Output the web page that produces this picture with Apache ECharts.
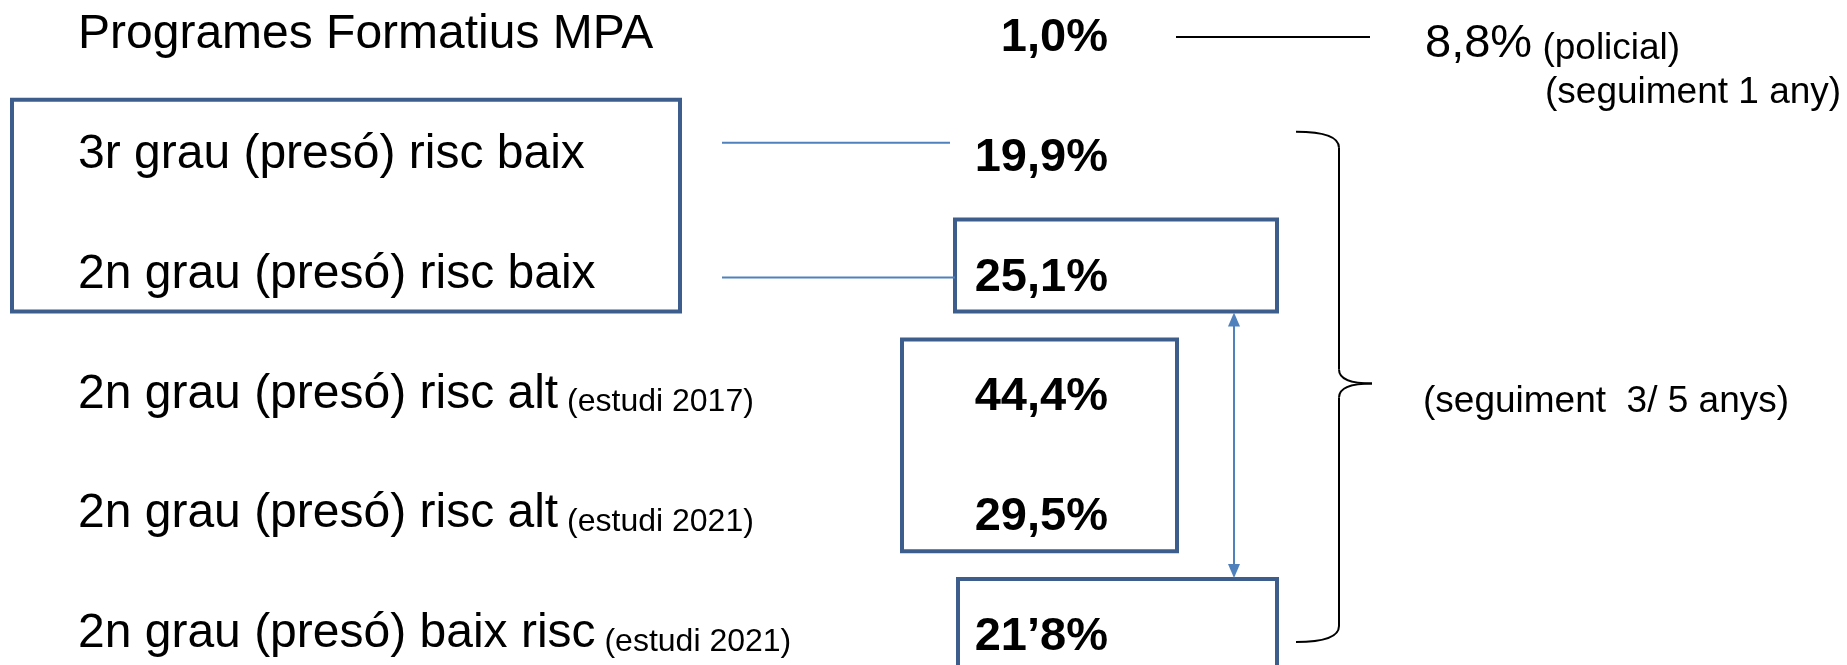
<!DOCTYPE html>
<html>
<head>
<meta charset="utf-8">
<title>Programes Formatius MPA</title>
<script src="https://cdn.jsdelivr.net/npm/echarts@6/dist/echarts.min.js"></script>
<style>
  html, body { margin: 0; padding: 0; background: #fff; }
  #chart { width: 1847px; height: 665px; }
</style>
</head>
<body>
<div id="chart"></div>
<script>
// files del quadre
const rowLabels = [
  'Programes Formatius MPA',
  '3r grau (presó) risc baix',
  '2n grau (presó) risc baix',
  '2n grau (presó) risc alt',
  '2n grau (presó) risc alt',
  '2n grau (presó) baix risc'
];
const rowNotes = ['', '', '', '(estudi 2017)', '(estudi 2021)', '(estudi 2021)'];

// taxa de reincidència per fila
const rateValues = [1.0, 19.9, 25.1, 44.4, 29.5, 21.8];
const rateLabels = ['1,0%', '19,9%', '25,1%', '44,4%', '29,5%', '21’8%'];

// reincidència policial (fila 0)
const policeValue = 8.8;
const policeLabel = '8,8%';
const policeNote = '(policial)';
const followShort = '(seguiment 1 any)';
const followLong = '(seguiment  3/ 5 anys)';

// files agrupades dins de cada requadre [primera, última]
const boxRows = [[1, 2], [2, 2], [3, 4], [5, 5]];

// maquetació (px)
const FONT = "'Liberation Sans', Arial, sans-serif";
const boxX = [[12, 680], [955, 1277], [902, 1177], [958, 1277]];
const BOX_TOP = 55, BOX_BOTTOM = 37;
const RATE_RIGHT = 1108;
const DARK_BLUE = '#3d5e8c';
const LIGHT_BLUE = '#4f81bd';

let myChart = echarts.init(document.getElementById('chart'));

let option = {
  backgroundColor: '#fff',
  animation: false,
  grid: { left: 0, right: 0, top: 35, bottom: 31, containLabel: false, outerBoundsMode: 'none' },
  xAxis: { type: 'value', min: 0, max: 1847, show: false },
  yAxis: {
    type: 'category',
    inverse: true,
    boundaryGap: false,
    data: rowLabels,
    axisLine: { show: false },
    axisTick: { show: false },
    splitLine: { show: false },
    axisLabel: {
      inside: true,
      margin: 78,
      align: 'left',
      interval: 0,
      formatter: function (value, index) {
        let s = '{main|' + rowLabels[index] + '}';
        if (rowNotes[index]) s += '{note| ' + rowNotes[index] + '}';
        return s;
      },
      rich: {
        main: { fontFamily: FONT, fontSize: 48, lineHeight: 48, verticalAlign: 'bottom', color: '#000' },
        note: { fontFamily: FONT, fontSize: 32, lineHeight: 38, verticalAlign: 'bottom', color: '#000' }
      }
    }
  },
  series: [
    {
      // requadres
      name: 'caixes',
      type: 'custom',
      clip: false,
      silent: true,
      data: boxRows,
      renderItem: function (params, api) {
        const g = boxRows[params.dataIndex];
        const x = boxX[params.dataIndex];
        const y0 = api.coord([0, g[0]])[1] - BOX_TOP;
        const y1 = api.coord([0, g[1]])[1] + BOX_BOTTOM;
        return {
          type: 'rect',
          shape: { x: x[0], y: y0, width: x[1] - x[0], height: y1 - y0 },
          style: { fill: 'none', stroke: DARK_BLUE, lineWidth: 4 }
        };
      }
    },
    {
      // percentatges
      name: 'taxa',
      type: 'custom',
      clip: false,
      silent: true,
      data: rateValues.map((v, i) => [v, i]),
      encode: { x: 0, y: 1 },
      renderItem: function (params, api) {
        const y = api.coord([0, api.value(1)])[1];
        return {
          type: 'text',
          x: RATE_RIGHT,
          y: y + 3,
          style: {
            text: rateLabels[params.dataIndex],
            fill: '#000',
            font: 'bold 47px ' + FONT,
            align: 'right',
            verticalAlign: 'middle'
          }
        };
      }
    },
    {
      // línies, fletxa, clau i textos de seguiment
      name: 'anotacions',
      type: 'custom',
      clip: false,
      silent: true,
      data: [[policeValue, 0]],
      encode: { x: 0, y: 1 },
      renderItem: function (params, api) {
        const r = i => api.coord([0, i])[1];
        const thin = { stroke: LIGHT_BLUE, lineWidth: 2 };
        const ax = 1234;
        const aTop = r(2) + BOX_BOTTOM + 1;
        const aBot = r(5) - BOX_TOP - 1;
        const bTop = r(1) - 23, bBot = r(5) + 8, tip = r(3) - 11;
        const sx = 1339, ex = 1296, tx = 1372;
        const blk = { stroke: '#000', lineWidth: 2, fill: 'none' };
        return {
          type: 'group',
          children: [
            { type: 'line', shape: { x1: 722, y1: r(1) - 12, x2: 950, y2: r(1) - 12 }, style: thin },
            { type: 'line', shape: { x1: 722, y1: r(2) + 3, x2: 955, y2: r(2) + 3 }, style: thin },
            { type: 'line', shape: { x1: 1176, y1: r(0) + 2, x2: 1370, y2: r(0) + 2 }, style: { stroke: '#000', lineWidth: 2 } },
            // fletxa doble
            { type: 'line', shape: { x1: ax, y1: aTop + 12, x2: ax, y2: aBot - 12 }, style: thin },
            { type: 'polygon', shape: { points: [[ax, aTop], [ax - 6, aTop + 14], [ax + 6, aTop + 14]] }, style: { fill: LIGHT_BLUE } },
            { type: 'polygon', shape: { points: [[ax, aBot], [ax - 6, aBot - 14], [ax + 6, aBot - 14]] }, style: { fill: LIGHT_BLUE } },
            // clau
            { type: 'bezierCurve', shape: { x1: ex, y1: bTop, cpx1: sx, cpy1: bTop, x2: sx, y2: bTop + 16 }, style: blk },
            { type: 'line', shape: { x1: sx, y1: bTop + 16, x2: sx, y2: tip - 14 }, style: blk },
            { type: 'bezierCurve', shape: { x1: sx, y1: tip - 14, cpx1: sx, cpy1: tip, x2: tx, y2: tip }, style: blk },
            { type: 'bezierCurve', shape: { x1: tx, y1: tip, cpx1: sx, cpy1: tip, x2: sx, y2: tip + 14 }, style: blk },
            { type: 'line', shape: { x1: sx, y1: tip + 14, x2: sx, y2: bBot - 16 }, style: blk },
            { type: 'bezierCurve', shape: { x1: sx, y1: bBot - 16, cpx1: sx, cpy1: bBot, x2: ex, y2: bBot }, style: blk },
            // textos
            {
              type: 'text', x: 1425, y: r(0) + 9,
              style: {
                text: '{a|' + policeLabel + '}{b| ' + policeNote + '}',
                align: 'left', verticalAlign: 'middle',
                rich: {
                  a: { fontFamily: FONT, fontSize: 47, lineHeight: 47, verticalAlign: 'bottom', fill: '#000' },
                  b: { fontFamily: FONT, fontSize: 37, lineHeight: 41, verticalAlign: 'bottom', fill: '#000' }
                }
              }
            },
            {
              type: 'text', x: 1545, y: r(0) + 58,
              style: { text: followShort, font: '37px ' + FONT, fill: '#000', align: 'left', verticalAlign: 'middle' }
            },
            {
              type: 'text', x: 1423, y: r(3) + 7,
              style: { text: followLong, font: '37px ' + FONT, fill: '#000', align: 'left', verticalAlign: 'middle' }
            }
          ]
        };
      }
    }
  ]
};

myChart.setOption(option);
</script>
</body>
</html>
